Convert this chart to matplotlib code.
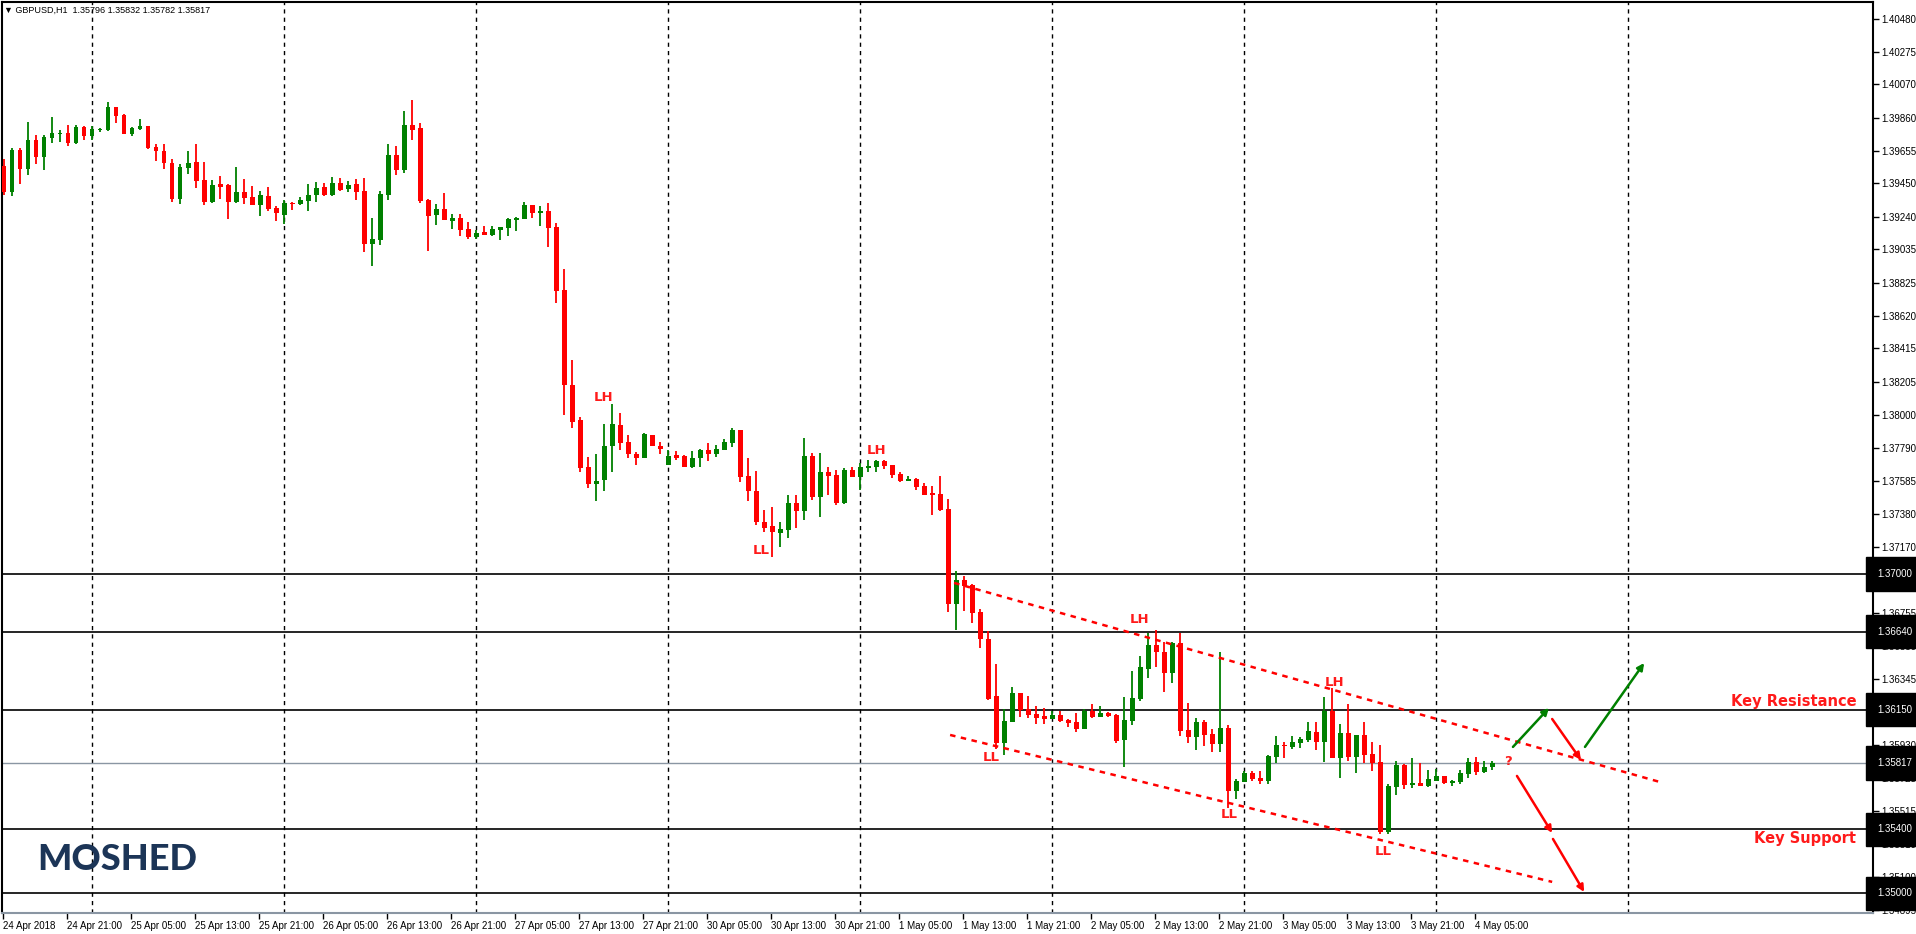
import matplotlib
matplotlib.use("Agg")
import matplotlib.pyplot as plt
import matplotlib.transforms as mtransforms
import numpy as np

# ---------------- DATA (GBPUSD H1) ----------------
opens = [1.39559,1.39392,1.39659,1.39542,1.39722,1.39617,1.39736,1.39761,1.39766,1.39705,
 1.39803,1.39749,1.39786,1.39784,1.39928,1.39878,1.39761,1.39791,1.39809,1.39678,
 1.39653,1.39578,1.39354,1.39548,1.39584,1.39471,1.39335,1.39446,1.39440,1.39335,
 1.39396,1.39364,1.39316,1.39371,1.39295,1.39254,1.39327,1.39321,1.39339,1.39377,
 1.39427,1.39377,1.39452,1.39415,1.39446,1.39402,1.39070,1.39095,1.39377,1.39628,
 1.39534,1.39816,1.39797,1.39346,1.39252,1.39289,1.39216,1.39233,1.39164,1.39116,
 1.39145,1.39128,1.39160,1.39172,1.39222,1.39229,1.39314,1.39266,1.39277,1.39176,
 1.38782,1.38186,1.37967,1.37672,1.37562,1.37587,1.37800,1.37936,1.37829,1.37754,
 1.37731,1.37873,1.37804,1.37687,1.37748,1.37741,1.37674,1.37725,1.37779,1.37756,
 1.37781,1.37825,1.37904,1.37612,1.37522,1.37324,1.37302,1.37258,1.37277,1.37446,
 1.37396,1.37741,1.37484,1.37641,1.37621,1.37446,1.37653,1.37609,1.37666,1.37672,
 1.37710,1.37685,1.37628,1.37584,1.37597,1.37553,1.37509,1.37503,1.37409,1.36813,
 1.36964,1.36932,1.36763,1.36594,1.36236,1.35942,1.36074,1.36255,1.36155,1.36124,
 1.36111,1.36092,1.36117,1.36086,1.36074,1.36029,1.36142,1.36105,1.36130,1.36117,
 1.35961,1.36080,1.36218,1.36406,1.36556,1.36512,1.36381,1.36569,1.36023,1.35979,
 1.36074,1.35998,1.35936,1.36036,1.35641,1.35698,1.35754,1.35723,1.35704,1.35854,
 1.35929,1.35917,1.35942,1.35961,1.36011,1.35948,1.36142,1.35848,1.36004,1.35854,
 1.35992,1.35873,1.35823,1.35384,1.35666,1.35804,1.35679,1.35691,1.35672,1.35704,
 1.35735,1.35691,1.35698,1.35748,1.35823,1.35760,1.35791]
highs = [1.39603,1.39672,1.39672,1.39835,1.39753,1.39753,1.39866,1.39784,1.39816,1.39816,
 1.39806,1.39809,1.39799,1.39960,1.39930,1.39885,1.39803,1.39853,1.39811,1.39697,
 1.39697,1.39603,1.39571,1.39653,1.39697,1.39584,1.39473,1.39496,1.39446,1.39552,
 1.39477,1.39433,1.39402,1.39427,1.39308,1.39346,1.39333,1.39364,1.39446,1.39458,
 1.39452,1.39490,1.39483,1.39465,1.39477,1.39483,1.39233,1.39402,1.39697,1.39684,
 1.39903,1.39972,1.39828,1.39349,1.39321,1.39390,1.39258,1.39258,1.39208,1.39160,
 1.39183,1.39183,1.39176,1.39233,1.39241,1.39333,1.39316,1.39308,1.39327,1.39202,
 1.38913,1.38343,1.37984,1.37737,1.37754,1.37942,1.38067,1.38011,1.37873,1.37768,
 1.37885,1.37875,1.37829,1.37779,1.37773,1.37748,1.37773,1.37787,1.37823,1.37810,
 1.37848,1.37917,1.37906,1.37725,1.37649,1.37399,1.37418,1.37327,1.37496,1.37496,
 1.37854,1.37760,1.37760,1.37672,1.37653,1.37666,1.37672,1.37697,1.37716,1.37716,
 1.37716,1.37687,1.37641,1.37615,1.37603,1.37572,1.37553,1.37615,1.37471,1.37020,
 1.36989,1.36938,1.36782,1.36644,1.36437,1.36155,1.36293,1.36257,1.36236,1.36174,
 1.36161,1.36142,1.36142,1.36092,1.36130,1.36155,1.36186,1.36174,1.36136,1.36124,
 1.36230,1.36393,1.36487,1.36632,1.36650,1.36575,1.36575,1.36632,1.36193,1.36099,
 1.36086,1.36029,1.36512,1.36055,1.35716,1.35766,1.35766,1.35766,1.35866,1.35985,
 1.35948,1.35985,1.35979,1.36074,1.36074,1.36230,1.36287,1.36061,1.36186,1.35992,
 1.36074,1.35948,1.35929,1.35685,1.35829,1.35810,1.35848,1.35817,1.35773,1.35779,
 1.35737,1.35710,1.35773,1.35848,1.35854,1.35829,1.35829]
lows = [1.39379,1.39367,1.39448,1.39504,1.39573,1.39530,1.39705,1.39711,1.39686,1.39699,
 1.39724,1.39724,1.39774,1.39780,1.39830,1.39760,1.39743,1.39786,1.39663,1.39592,
 1.39542,1.39335,1.39323,1.39511,1.39421,1.39316,1.39325,1.39354,1.39229,1.39329,
 1.39323,1.39316,1.39247,1.39279,1.39216,1.39197,1.39285,1.39314,1.39279,1.39335,
 1.39373,1.39373,1.39402,1.39392,1.39348,1.39016,1.38934,1.39066,1.39348,1.39504,
 1.39517,1.39718,1.39329,1.39028,1.39191,1.39222,1.39166,1.39122,1.39103,1.39103,
 1.39128,1.39122,1.39097,1.39122,1.39153,1.39227,1.39235,1.39185,1.39053,1.38702,
 1.38000,1.37919,1.37637,1.37537,1.37461,1.37524,1.37643,1.37781,1.37731,1.37681,
 1.37725,1.37800,1.37750,1.37685,1.37718,1.37674,1.37668,1.37674,1.37706,1.37737,
 1.37779,1.37794,1.37580,1.37461,1.37305,1.37261,1.37110,1.37170,1.37227,1.37289,
 1.37340,1.37465,1.37358,1.37496,1.37434,1.37440,1.37609,1.37528,1.37641,1.37641,
 1.37660,1.37603,1.37578,1.37582,1.37528,1.37496,1.37371,1.37396,1.36763,1.36650,
 1.36769,1.36694,1.36537,1.36211,1.35904,1.35866,1.36072,1.36105,1.36098,1.36061,
 1.36061,1.36090,1.36074,1.36042,1.36011,1.36027,1.36098,1.36103,1.36105,1.35942,
 1.35791,1.36055,1.36205,1.36349,1.36418,1.36262,1.36318,1.35986,1.35942,1.35898,
 1.35923,1.35885,1.35885,1.35535,1.35591,1.35698,1.35704,1.35685,1.35685,1.35817,
 1.35848,1.35904,1.35911,1.35948,1.35898,1.35823,1.35848,1.35723,1.35829,1.35754,
 1.35817,1.35766,1.35372,1.35372,1.35616,1.35654,1.35660,1.35672,1.35666,1.35702,
 1.35685,1.35672,1.35685,1.35723,1.35741,1.35754,1.35773]
closes = [1.39392,1.39659,1.39542,1.39722,1.39617,1.39741,1.39766,1.39766,1.39705,1.39803,
 1.39749,1.39791,1.39791,1.39928,1.39874,1.39761,1.39797,1.39809,1.39674,1.39649,
 1.39580,1.39354,1.39552,1.39578,1.39467,1.39335,1.39440,1.39429,1.39335,1.39396,
 1.39360,1.39316,1.39377,1.39291,1.39266,1.39327,1.39323,1.39346,1.39377,1.39421,
 1.39379,1.39452,1.39408,1.39440,1.39396,1.39070,1.39101,1.39383,1.39628,1.39534,
 1.39816,1.39784,1.39341,1.39247,1.39289,1.39222,1.39233,1.39160,1.39116,1.39141,
 1.39128,1.39164,1.39176,1.39227,1.39235,1.39314,1.39266,1.39277,1.39172,1.38777,
 1.38188,1.37956,1.37668,1.37562,1.37585,1.37804,1.37942,1.37825,1.37750,1.37731,
 1.37879,1.37806,1.37787,1.37741,1.37731,1.37674,1.37729,1.37779,1.37756,1.37785,
 1.37829,1.37904,1.37606,1.37518,1.37324,1.37292,1.37261,1.37283,1.37446,1.37396,
 1.37741,1.37484,1.37641,1.37615,1.37446,1.37653,1.37609,1.37672,1.37678,1.37710,
 1.37678,1.37621,1.37584,1.37597,1.37547,1.37496,1.37496,1.37402,1.36813,1.36964,
 1.36926,1.36757,1.36594,1.36218,1.35942,1.36080,1.36255,1.36149,1.36117,1.36098,
 1.36092,1.36117,1.36080,1.36067,1.36029,1.36142,1.36105,1.36130,1.36111,1.35954,
 1.36086,1.36224,1.36418,1.36556,1.36512,1.36381,1.36569,1.36017,1.35979,1.36074,
 1.35992,1.35936,1.36036,1.35641,1.35704,1.35754,1.35716,1.35704,1.35860,1.35929,
 1.35923,1.35948,1.35967,1.36017,1.35948,1.36142,1.35848,1.36004,1.35854,1.35992,
 1.35866,1.35817,1.35384,1.35672,1.35804,1.35679,1.35691,1.35672,1.35716,1.35735,
 1.35691,1.35704,1.35754,1.35823,1.35760,1.35791,1.35817]

y_ticks = [1.40480,1.40275,1.40070,1.39860,1.39655,1.39450,1.39240,1.39035,1.38825,
           1.38620,1.38415,1.38205,1.38000,1.37790,1.37585,1.37380,1.37170,1.36965,
           1.36755,1.36550,1.36345,1.35930,1.35725,1.35515,1.35310,1.35100,1.34895]
key_levels = [1.37000, 1.36640, 1.36150, 1.35400, 1.35000]
bid_price = 1.35817
x_labels = ['24 Apr 2018','24 Apr 21:00','25 Apr 05:00','25 Apr 13:00','25 Apr 21:00','26 Apr 05:00',
            '26 Apr 13:00','26 Apr 21:00','27 Apr 05:00','27 Apr 13:00','27 Apr 21:00',
            '30 Apr 05:00','30 Apr 13:00','30 Apr 21:00','1 May 05:00','1 May 13:00',
            '1 May 21:00','2 May 05:00','2 May 13:00','2 May 21:00','3 May 05:00',
            '3 May 13:00','3 May 21:00','4 May 05:00']
first_tick_bar = -0.1
label_step = 8
first_grid_bar = 11
grid_step = 24
last_grid_bar = 203

swing_labels = [("LH", 74.9, 1.38104), ("LL", 94.6, 1.37145), ("LH", 109.1, 1.37778),
                ("LL", 123.4, 1.35848), ("LH", 141.9, 1.36713), ("LL", 153.1, 1.35491),
                ("LH", 166.3, 1.36318), ("LL", 172.4, 1.35259), ("?", 188.0, 1.35823)]
channel_upper = [(118.75, 1.36945), (207.4, 1.35691)]
channel_lower = [(118.25, 1.35992), (193.5, 1.35071)]
arrows_green = [((188.6, 1.35917), (193.1, 1.36161)), ((197.6, 1.35917), (205.0, 1.36443))]
arrows_red = [((193.5, 1.36092), (197.1, 1.35835)), ((189.1, 1.35735), (193.5, 1.35378)),
              ((193.6, 1.35340), (197.5, 1.35008))]

FONT = ['Liberation Sans', 'DejaVu Sans']

# ---------------- FIGURE ----------------
W, H = 1916, 934
fig = plt.figure(figsize=(W/100, H/100), dpi=100)
ax = fig.add_axes([2/W, (H-913)/H, (1873-2)/W, (913-2)/H])
ax.set_xlim(-0.25, 233.6)
ax.set_ylim(1.34876, 1.40586)

n = len(closes)
idx = np.arange(n)
o = np.array(opens); c = np.array(closes); hi = np.array(highs); lo = np.array(lows)
up = c >= o
cols = np.where(up, '#008000', '#ff0000')

for g in range(first_grid_bar, last_grid_bar + 1, grid_step):
    ax.axvline(g, color='black', lw=1, ls=(0, (3, 3)), zorder=1)
for lv in key_levels:
    ax.axhline(lv, color='black', lw=1.2, zorder=1)
ax.axhline(bid_price, color='#8a96a3', lw=1.0, zorder=1)

ax.vlines(idx, lo, hi, colors=cols, lw=1.3, zorder=3)
bottoms = np.minimum(o, c)
heights = np.maximum(np.abs(c - o), 0.00004)
ax.bar(idx, heights, bottom=bottoms, width=0.62, color=cols, zorder=4, linewidth=0)

for seg in (channel_upper, channel_lower):
    (x0, y0), (x1, y1) = seg
    ax.plot([x0, x1], [y0, y1], color='#ff0000', lw=1.8, ls=(0, (2.2, 2.2)), zorder=5)

for (s, e), colr in [(a, '#008000') for a in arrows_green] + [(a, '#ff0000') for a in arrows_red]:
    ax.annotate('', xy=e, xytext=s,
                arrowprops=dict(arrowstyle='-|>', color=colr, lw=1.8,
                                mutation_scale=10, shrinkA=0, shrinkB=0), zorder=6)

for t, xx, yy in swing_labels:
    ax.text(xx, yy, t, color='#ff1a1a', fontsize=9.5, fontweight='bold',
            ha='center', va='center', family='DejaVu Sans', zorder=7)

ax.text(231.5, 1.36199, 'Key Resistance', color='#ff1a1a', fontsize=10.5,
        fontweight='bold', ha='right', va='center')
ax.text(231.5, 1.35340, 'Key Support', color='#ff1a1a', fontsize=10.5,
        fontweight='bold', ha='right', va='center')

for sp in ['top', 'left', 'right']:
    ax.spines[sp].set_linewidth(1.5)
ax.spines['bottom'].set_color('#8a96a3')
ax.spines['bottom'].set_linewidth(1.5)

ax.yaxis.tick_right()
ax.set_yticks(y_ticks)
ax.set_yticklabels([f"{v:.5f}" for v in y_ticks], fontsize=7, family=FONT)
ax.tick_params(axis='y', direction='out', length=4, width=1, pad=2)

xt = [first_tick_bar + label_step * k for k in range(len(x_labels))]
ax.set_xticks(xt)
ax.set_xticklabels(x_labels, fontsize=7, family=FONT, ha='left')
ax.tick_params(axis='x', direction='out', length=4, width=1, pad=2)

trans = mtransforms.blended_transform_factory(ax.transAxes, ax.transData)
for lv in key_levels + [bid_price]:
    ax.text(1.0025, lv, f"{lv:.5f}", transform=trans, color='white', fontsize=7,
            ha='left', va='center', family=FONT, zorder=10, clip_on=False,
            bbox=dict(facecolor='black', edgecolor='black', pad=1.2, boxstyle='square'))

fig.text(4/W, 1 - 10/H, '\u25bc GBPUSD,H1  1.35796 1.35832 1.35782 1.35817',
         fontsize=6.5, va='center', ha='left', family=FONT)

ax.text(14.1, 1.35209, 'MOSHED', color='#1c3557', fontsize=26, fontweight='black',
        family='Lato', ha='center', va='center', zorder=8)

fig.savefig('out.png', dpi=100)
